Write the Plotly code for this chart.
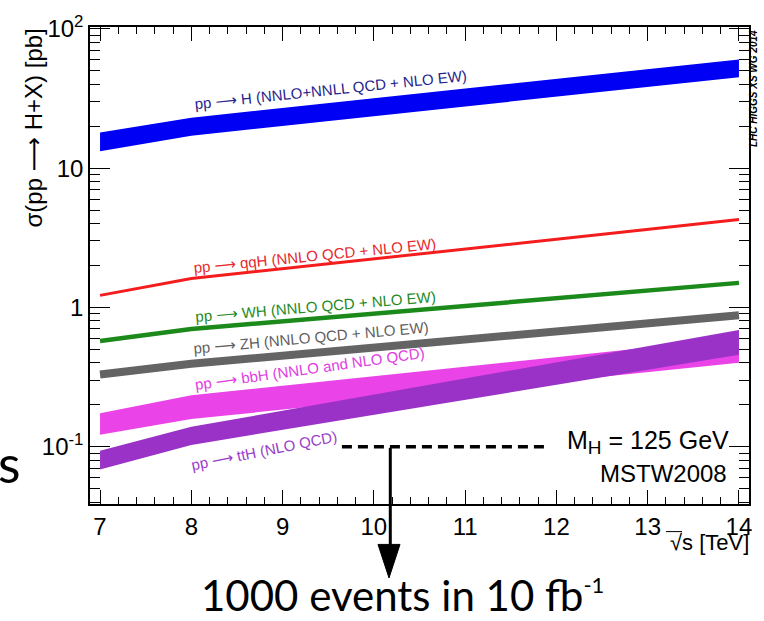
import math
import plotly.graph_objects as go

# ---------------- data ----------------
sqrt_s = [7, 8, 14]                       # TeV
ggH_hi = [18.0, 23.0, 60.3]               # pb
ggH_lo = [13.2, 17.1, 44.9]
qqH = [1.22, 1.61, 4.28]
WH = [0.574, 0.70, 1.50]
ZH = [0.33, 0.394, 0.877]
bbH_hi = [0.174, 0.234, 0.603]
bbH_lo = [0.122, 0.158, 0.40]
ttH_hi = [0.0937, 0.139, 0.687]
ttH_lo = [0.0687, 0.103, 0.457]

x_ticks = [7, 8, 9, 10, 11, 12, 13, 14]
y_ticks = [0.1, 1, 10, 100]
y_ticktext = ["10<sup>-1</sup>", "1", "10", "10<sup>2</sup>"]
y_minor = [m * 10.0 ** e for e in (-2, -1, 0, 1) for m in range(2, 10)]

lumi_x = [9.65, 11.9]     # dashed 0.1 pb reference line (1000 events in 10 fb^-1)
lumi_y = 0.1
arrow_x = 10.18

# ---------------- layout geometry ----------------
W, H = 764, 621
L, R, T, B = 90, 15, 20, 117
PW, PH = W - L - R, H - T - B


def px(xp):
    return (xp - L) / PW


def py(yp):
    return (H - B - yp) / PH


FONT = "Liberation Sans, Arial, Helvetica, sans-serif"
ARROW = '<span style="font-family:DejaVu Sans">⟶</span>'

fig = go.Figure()


def band(xs, hi, lo, color):
    fig.add_trace(go.Scatter(
        x=list(xs) + list(xs)[::-1], y=list(hi) + list(lo)[::-1],
        fill="toself", fillcolor=color, mode="lines",
        line=dict(width=0, color=color), hoverinfo="skip", showlegend=False))


def line(xs, ys, color, width):
    fig.add_trace(go.Scatter(x=xs, y=ys, mode="lines",
                             line=dict(color=color, width=width),
                             hoverinfo="skip", showlegend=False))


band(sqrt_s, ggH_hi, ggH_lo, "#0000f5")
line(sqrt_s, qqH, "#f41c1c", 3)
line(sqrt_s, WH, "#1b8a1b", 4.5)
line(sqrt_s, ZH, "#646464", 8)
band(sqrt_s, bbH_hi, bbH_lo, "#ea44e8")
band(sqrt_s, ttH_hi, ttH_lo, "#9a32c8")

# ---------------- labels ----------------
labels = [
    (f"pp {ARROW} H (NNLO+NNLL QCD + NLO EW)", 331, 84, -6.0, "#24248c"),
    (f"pp {ARROW} qqH (NNLO QCD + NLO EW)", 315, 252, -5.7, "#e8282c"),
    (f"pp {ARROW} WH (NNLO QCD + NLO EW)", 315, 304, -4.8, "#238a23"),
    (f"pp {ARROW} ZH (NNLO QCD + NLO EW)", 311, 336, -5.2, "#5f5f5f"),
    (f"pp {ARROW} bbH (NNLO and NLO QCD)", 310, 367, -8.0, "#e040e0"),
    (f"pp {ARROW} ttH (NLO QCD)", 264, 450, -11.3, "#9a40c8"),
]
anns = []
for txt, cx, cy, ang, col in labels:
    anns.append(dict(text=txt, x=px(cx), y=py(cy), xref="paper", yref="paper",
                     xanchor="center", yanchor="middle", textangle=ang,
                     showarrow=False, font=dict(family=FONT, size=15, color=col)))

anns += [
    dict(text='M<sub><span style="font-size:19px">H</span></sub> = 125 GeV',
         x=px(731), y=py(441), xref="paper", yref="paper",
         xanchor="right", yanchor="middle", showarrow=False,
         font=dict(family=FONT, size=25, color="black")),
    dict(text="MSTW2008", x=px(729), y=py(473), xref="paper", yref="paper",
         xanchor="right", yanchor="middle", showarrow=False,
         font=dict(family=FONT, size=24, color="black")),
    dict(text=f"σ(pp {ARROW} H+X) [pb]", x=px(34), y=py(123), xref="paper", yref="paper",
         xanchor="center", yanchor="middle", textangle=-90, showarrow=False,
         font=dict(family=FONT, size=24, color="black")),
    dict(text="√s [TeV]", x=px(751), y=py(543), xref="paper", yref="paper",
         xanchor="right", yanchor="middle", showarrow=False,
         font=dict(family=FONT, size=22, color="black")),
    dict(text="<b><i>LHC HIGGS XS WG 2014</i></b>", x=px(753), y=py(83), xref="paper",
         yref="paper", xanchor="center", yanchor="middle", textangle=-90,
         showarrow=False, font=dict(family=FONT, size=10, color="black")),
    dict(text='1000 events in 10 fb<sup><span style="font-size:22px">-1</span></sup>',
         x=px(402), y=py(596), xref="paper",
         yref="paper", xanchor="center", yanchor="middle", showarrow=False,
         font=dict(family="Lato, Open Sans, sans-serif", size=42, color="black")),
    dict(text="s", x=px(23), y=py(462), xref="paper", yref="paper",
         xanchor="right", yanchor="middle", showarrow=False,
         font=dict(family="Lato, Open Sans, sans-serif", size=52, color="black")),
]

shapes = [
    dict(type="line", xref="x", yref="y", x0=lumi_x[0], x1=lumi_x[1],
         y0=lumi_y, y1=lumi_y, line=dict(color="black", width=3.5, dash="10px,6px")),
    dict(type="line", xref="x", yref="paper", x0=arrow_x, x1=arrow_x,
         y0=py(447), y1=py(548), line=dict(color="black", width=3)),
    dict(type="path", xref="paper", yref="paper", fillcolor="black",
         line=dict(color="black", width=1),
         path=f"M {px(378)} {py(545)} L {px(400)} {py(545)} L {px(389)} {py(579)} Z"),
    # radical bar over the s
    dict(type="line", xref="paper", yref="paper", x0=px(666), x1=px(682),
         y0=py(532), y1=py(532), line=dict(color="black", width=1)),
]

fig.update_layout(
    width=W, height=H, margin=dict(l=L, r=R, t=T, b=B),
    paper_bgcolor="white", plot_bgcolor="white",
    annotations=anns, shapes=shapes, showlegend=False,
    font=dict(family=FONT, color="black"),
    xaxis=dict(range=[6.89, 14.11], tickvals=x_ticks, ticks="inside", ticklen=14,
               tickwidth=1.2, tickcolor="black", showline=True, linecolor="black",
               linewidth=1.5, mirror="allticks", showgrid=False, zeroline=False,
               tickfont=dict(size=24, family=FONT, color="black"),
               minor=dict(dtick=0.2, tick0=7, ticks="inside", ticklen=7,
                          tickwidth=1.2, tickcolor="black", showgrid=False)),
    yaxis=dict(type="log", range=[math.log10(0.0388), math.log10(103)],
               tickvals=y_ticks, ticktext=y_ticktext, ticks="inside", ticklen=20,
               tickwidth=1.2, tickcolor="black", showline=True, linecolor="black",
               linewidth=1.5, mirror="allticks", showgrid=False, zeroline=False,
               tickfont=dict(size=24, family=FONT, color="black"),
               minor=dict(tickvals=y_minor, ticks="inside", ticklen=10,
                          tickwidth=1.2, tickcolor="black", showgrid=False)),
)

fig.write_html("out.html")
